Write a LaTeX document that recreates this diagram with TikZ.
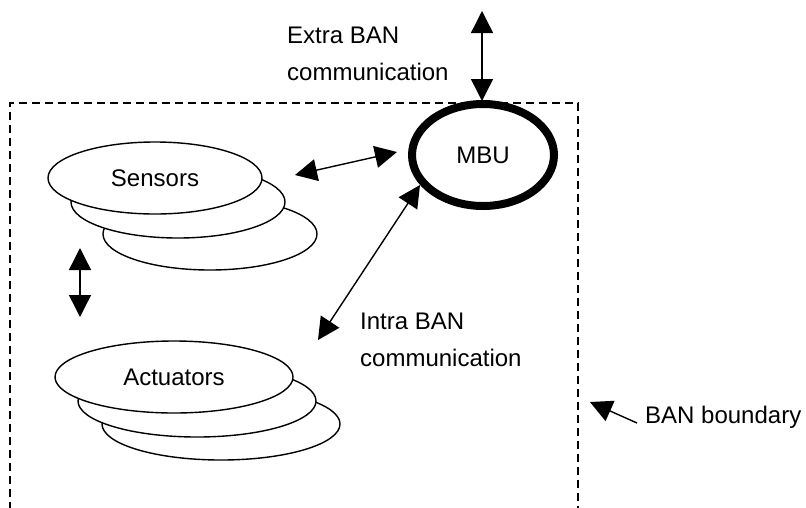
\documentclass[tikz,border=0pt]{standalone}
\usepackage{fontspec}
\setmainfont{Liberation Sans}
\usetikzlibrary{shapes.geometric,arrows.meta}
\begin{document}
\begin{tikzpicture}[x=1pt,y=-1pt,
  disc/.style={ellipse,draw,line width=1.4pt,fill=white,inner sep=0pt},
  lbl/.style={font=\fontsize{24}{37}\selectfont,align=left,inner sep=0pt},
  tip/.style={Triangle[length=22pt,width=22pt]},
  dbl/.style={line width=1.4pt,{Triangle[length=22pt,width=22pt]}-{Triangle[length=22pt,width=22pt]}},
  sgl/.style={line width=1.4pt,-{Triangle[length=22pt,width=22pt]}}]
\useasboundingbox (0,0) rectangle (806,507);
% boundary
\draw[line width=1.4pt,dash pattern=on 8pt off 5pt] (10,510) -- (10,103) -- (578,103) -- (578,510);
% sensors
\node[disc,minimum width=214pt,minimum height=72pt] (s3) at (210,234) {};
\node[disc,minimum width=214pt,minimum height=72pt] (s2) at (178,202) {};
\node[disc,minimum width=214pt,minimum height=72pt,lbl] (s1) at (155,178) {Sensors};
% actuators
\node[disc,minimum width=238pt,minimum height=72pt] (a3) at (221,424) {};
\node[disc,minimum width=238pt,minimum height=72pt] (a2) at (197,401) {};
\node[disc,minimum width=238pt,minimum height=72pt,lbl] (a1) at (174,377) {Actuators};
% MBU
\node[ellipse,draw,line width=8pt,minimum width=142pt,minimum height=102pt,inner sep=0pt,lbl] (mbu) at (483,155) {MBU};
% labels
\node[lbl,anchor=west] (extra) at (287,54) {Extra BAN\\communication};
\node[lbl,anchor=west] (intra) at (360,340) {Intra BAN\\communication};
\node[lbl,anchor=west] (bound) at (645,417) {BAN boundary};
% arrow ends
\coordinate (ex1) at (482,11);
\coordinate (ex2) at (482,101);
\coordinate (sm1) at (295,175);
\coordinate (sm2) at (397,152);
\coordinate (ia1) at (318,340);
\coordinate (ia2) at (420,185);
\coordinate (sa1) at (80,248);
\coordinate (sa2) at (80,317);
\coordinate (bb1) at (590,402);
\coordinate (bb2) at (637,423);
\draw[dbl] (ex1) -- (ex2);
\draw[dbl] (sm1) -- (sm2);
\draw[dbl] (ia1) -- (ia2);
\draw[dbl] (sa1) -- (sa2);
\draw[sgl] (bb2) -- (bb1);
\end{tikzpicture}
\end{document}
